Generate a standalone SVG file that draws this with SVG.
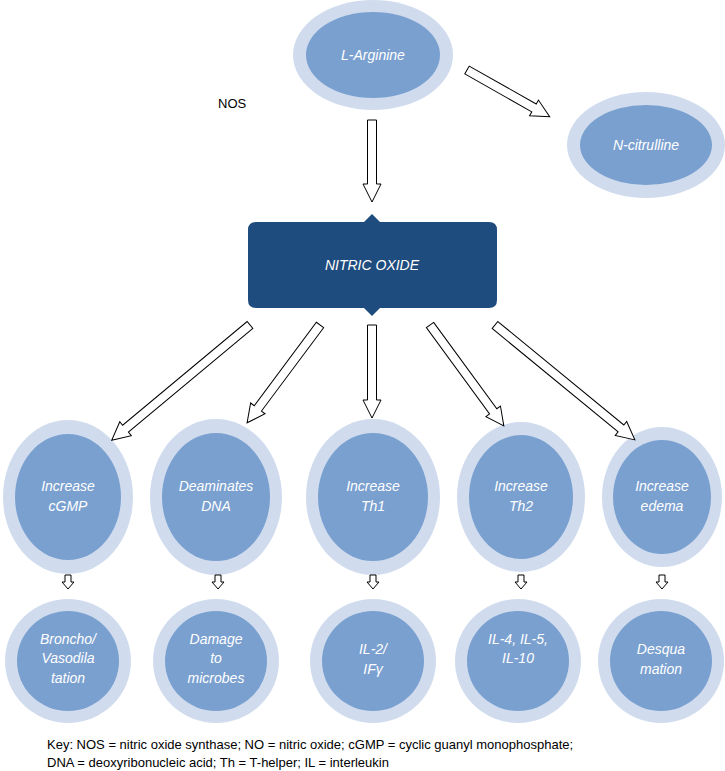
<svg xmlns="http://www.w3.org/2000/svg" width="725" height="771" viewBox="0 0 725 771">
<style>
.o{fill:#d0dcee}.i{fill:#7aa0d0}
.t{font-family:"Liberation Sans",Arial,sans-serif;font-style:italic;font-size:14px;fill:#fff;text-anchor:middle}
.a{fill:#fff;stroke:#000;stroke-width:1}
.k{font-family:"Liberation Sans",Arial,sans-serif;font-size:13px;fill:#000}
</style>
<rect width="725" height="771" fill="#fff"/>
<g id="larginine"><ellipse class="o" cx="373" cy="55" rx="80" ry="55"/><ellipse class="i" cx="373" cy="55" rx="67" ry="43"/><text class="t" x="373" y="60">L-Arginine</text></g>
<g id="ncitrulline"><ellipse class="o" cx="646" cy="145" rx="79" ry="53"/><ellipse class="i" cx="646" cy="145" rx="66" ry="40"/><text class="t" x="646" y="150">N-citrulline</text></g>
<text class="k" x="218" y="108" font-size="14">NOS</text>
<g id="no"><path d="M256,222 H364 L372,214 L380,222 H489 Q497,222 497,230 V300 Q497,308 489,308 H380 L372,316 L364,308 H256 Q248,308 248,300 V230 Q248,222 256,222 Z" fill="#1f4c7e"/><text class="t" x="372" y="270">NITRIC OXIDE</text></g>
<g id="m1"><ellipse class="o" cx="68" cy="497" rx="65" ry="77"/><ellipse class="i" cx="68" cy="497" rx="53" ry="63"/><text class="t" x="68" y="491">Increase</text><text class="t" x="68" y="511">cGMP</text></g>
<g id="m2"><ellipse class="o" cx="216" cy="497" rx="66" ry="78"/><ellipse class="i" cx="216" cy="497" rx="54" ry="64"/><text class="t" x="216" y="491">Deaminates</text><text class="t" x="216" y="511">DNA</text></g>
<g id="m3"><ellipse class="o" cx="373" cy="497" rx="67" ry="78"/><ellipse class="i" cx="373" cy="497" rx="55" ry="64"/><text class="t" x="373" y="491">Increase</text><text class="t" x="373" y="511">Th1</text></g>
<g id="m4"><ellipse class="o" cx="521" cy="497" rx="64" ry="75"/><ellipse class="i" cx="521" cy="497" rx="52" ry="62"/><text class="t" x="521" y="491">Increase</text><text class="t" x="521" y="511">Th2</text></g>
<g id="m5"><ellipse class="o" cx="662" cy="497" rx="60" ry="70"/><ellipse class="i" cx="662" cy="497" rx="49" ry="57"/><text class="t" x="662" y="491">Increase</text><text class="t" x="662" y="511">edema</text></g>
<g id="b1"><ellipse class="o" cx="68" cy="661" rx="63" ry="62"/><ellipse class="i" cx="68" cy="661" rx="51" ry="50"/><text class="t" x="68" y="644">Broncho/</text><text class="t" x="68" y="663">Vasodila</text><text class="t" x="68" y="683">tation</text></g>
<g id="b2"><ellipse class="o" cx="216" cy="661" rx="63" ry="62"/><ellipse class="i" cx="216" cy="661" rx="51" ry="50"/><text class="t" x="216" y="644">Damage</text><text class="t" x="216" y="663">to</text><text class="t" x="216" y="683">microbes</text></g>
<g id="b3"><ellipse class="o" cx="373" cy="661" rx="63" ry="62"/><ellipse class="i" cx="373" cy="661" rx="51" ry="50"/><text class="t" x="373" y="654">IL-2/</text><text class="t" x="373" y="674">IFγ</text></g>
<g id="b4"><ellipse class="o" cx="518" cy="661" rx="63" ry="62"/><ellipse class="i" cx="518" cy="661" rx="51" ry="50"/><text class="t" x="518" y="644">IL-4, IL-5,</text><text class="t" x="518" y="663">IL-10</text></g>
<g id="b5"><ellipse class="o" cx="661" cy="661" rx="63" ry="62"/><ellipse class="i" cx="661" cy="661" rx="51" ry="50"/><text class="t" x="661" y="654">Desqua</text><text class="t" x="661" y="674">mation</text></g>
<g id="connectors">
<path class="a" transform="translate(372,120) rotate(90)" d="M0,-4.5 H64 V-9 L82,0 L64,9 V4.5 H0 Z"/>
<path class="a" transform="translate(467,70) rotate(29.5)" d="M0,-4.5 H77 V-9 L95,0 L77,9 V4.5 H0 Z"/>
<path class="a" transform="translate(250,325) rotate(140.2)" d="M0,-4.5 H162 V-9 L180,0 L162,9 V4.5 H0 Z"/>
<path class="a" transform="translate(320,325) rotate(126.7)" d="M0,-4.5 H104 V-9 L122,0 L104,9 V4.5 H0 Z"/>
<path class="a" transform="translate(372,325) rotate(90)" d="M0,-4.5 H75 V-9 L93,0 L75,9 V4.5 H0 Z"/>
<path class="a" transform="translate(430,325) rotate(53.8)" d="M0,-4.5 H107 V-9 L125,0 L107,9 V4.5 H0 Z"/>
<path class="a" transform="translate(495,325) rotate(39.4)" d="M0,-4.5 H163 V-9 L181,0 L163,9 V4.5 H0 Z"/>
<path class="a" d="M65,575 h6 v7 h3 l-6,7 l-6,-7 h3 z"/>
<path class="a" d="M215,575 h6 v7 h3 l-6,7 l-6,-7 h3 z"/>
<path class="a" d="M370,575 h6 v7 h3 l-6,7 l-6,-7 h3 z"/>
<path class="a" d="M518,575 h6 v7 h3 l-6,7 l-6,-7 h3 z"/>
<path class="a" d="M659,575 h6 v7 h3 l-6,7 l-6,-7 h3 z"/>
</g>
<text class="k" x="47" y="749">Key: NOS = nitric oxide synthase; NO = nitric oxide; cGMP = cyclic guanyl monophosphate;</text>
<text class="k" x="47" y="767">DNA = deoxyribonucleic acid; Th = T-helper; IL = interleukin</text>
</svg>
